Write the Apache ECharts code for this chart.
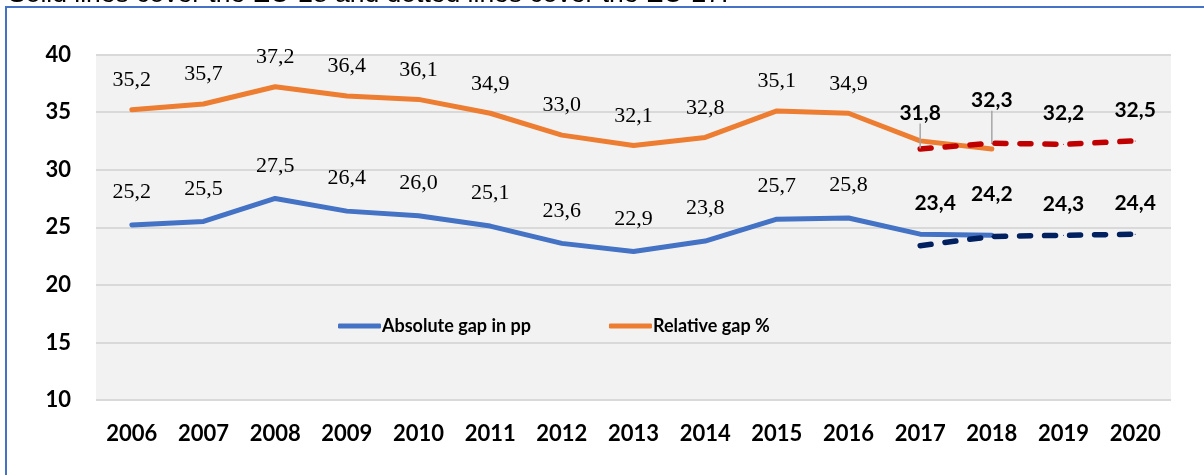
<!DOCTYPE html>
<html>
<head>
<meta charset="utf-8">
<script src="https://cdn.jsdelivr.net/npm/echarts@6/dist/echarts.min.js"></script>
<style>
  html, body { margin: 0; padding: 0; background: #fff; }
  #main { width: 1204px; height: 475px; }
</style>
</head>
<body>
<div id="main"></div>
<script>
// categories
var years = ['2006', '2007', '2008', '2009', '2010', '2011', '2012', '2013', '2014', '2015', '2016', '2017', '2018', '2019', '2020'];

// EU-28 (solid lines)
var absoluteGap = [25.2, 25.5, 27.5, 26.4, 26.0, 25.1, 23.6, 22.9, 23.8, 25.7, 25.8, 24.4, 24.3, null, null];
var relativeGap = [35.2, 35.7, 37.2, 36.4, 36.1, 34.9, 33.0, 32.1, 32.8, 35.1, 34.9, 32.5, 31.8, null, null];

// EU-27 (dotted lines)
var absoluteGapEU27 = [null, null, null, null, null, null, null, null, null, null, null, 23.4, 24.2, 24.3, 24.4];
var relativeGapEU27 = [null, null, null, null, null, null, null, null, null, null, null, 31.8, 32.3, 32.2, 32.5];

var note = 'Solid lines cover the EU-28 and dotted lines cover the EU-27.';

var chartDom = document.getElementById('main');
var myChart = echarts.init(chartDom);
var option;

function fmt(p) {
  return p.value == null ? '' : p.value.toFixed(1).replace('.', ',');
}

// solid series only label the years up to 2016
function solidData(arr) {
  return arr.map(function (v, i) {
    return i > 10 ? { value: v, label: { show: false } } : v;
  });
}

// leader lines only on the 2017 and 2018 labels of the relative EU-27 line
function leaderData(arr) {
  return arr.map(function (v, i) {
    return (i === 11 || i === 12) ? { value: v, labelLine: { show: true } } : v;
  });
}

var serifLabel = {
  show: true,
  position: 'top',
  fontFamily: 'Liberation Serif',
  fontSize: 22,
  color: '#000',
  formatter: fmt
};

var boldLabel = {
  show: true,
  position: 'top',
  distance: 20,
  fontFamily: 'Lato',
  fontWeight: 'bold',
  fontSize: 21,
  color: '#000',
  formatter: fmt
};

option = {
  animation: false,
  graphic: [
    {
      type: 'text',
      x: 8,
      y: -19,
      style: {
        text: note,
        fontFamily: 'Liberation Sans',
        fontSize: 26.5,
        fill: '#000'
      }
    },
    {
      type: 'rect',
      shape: { x: 6, y: 7, width: 1400, height: 700 },
      style: { fill: 'none', stroke: '#4472C4', lineWidth: 2 },
      silent: true
    }
  ],
  grid: {
    left: 96,
    right: 33,
    top: 54.5,
    bottom: 75,
    show: true,
    backgroundColor: '#f2f2f2',
    borderWidth: 0
  },
  legend: {
    data: ['Absolute gap in pp', 'Relative gap %'],
    left: 333,
    top: 312,
    icon: 'roundRect',
    itemWidth: 43,
    itemHeight: 5,
    itemGap: 78,
    textStyle: {
      fontFamily: 'Lato',
      fontWeight: 'bold',
      fontSize: 18,
      color: '#000',
      padding: [0, 0, 0, -4]
    }
  },
  xAxis: {
    type: 'category',
    data: years,
    boundaryGap: true,
    axisLine: { show: false },
    axisTick: { show: false },
    axisLabel: {
      margin: 23,
      fontFamily: 'Lato',
      fontWeight: 'bold',
      fontSize: 22,
      color: '#000'
    }
  },
  yAxis: {
    type: 'value',
    min: 10,
    max: 40,
    interval: 5,
    axisLine: { show: false },
    axisTick: { show: false },
    splitLine: { lineStyle: { color: '#d9d9d9', width: 2 } },
    axisLabel: {
      margin: 25,
      fontFamily: 'Lato',
      fontWeight: 'bold',
      fontSize: 22,
      color: '#000'
    }
  },
  series: [
    {
      name: 'Absolute gap in pp',
      type: 'line',
      data: solidData(absoluteGap),
      symbol: 'circle',
      symbolSize: 1,
      color: '#4472C4',
      lineStyle: { width: 5, cap: 'round', join: 'round' },
      label: Object.assign({}, serifLabel, { distance: 21 })
    },
    {
      name: 'Relative gap %',
      type: 'line',
      data: solidData(relativeGap),
      symbol: 'circle',
      symbolSize: 1,
      color: '#ED7D31',
      lineStyle: { width: 5, cap: 'round', join: 'round' },
      label: Object.assign({}, serifLabel, { distance: 18 })
    },
    {
      name: 'Relative gap % EU-27',
      type: 'line',
      data: leaderData(relativeGapEU27),
      symbol: 'circle',
      symbolSize: 1,
      color: '#C00000',
      lineStyle: { width: 5.5, type: [11, 14], cap: 'round' },
      label: boldLabel,
      labelLine: { show: false, lineStyle: { color: '#a6a6a6', width: 1.5 } },
      labelLayout: function (p) {
        if (p.dataIndex === 11) return { dy: -5 };
        if (p.dataIndex === 12) return { dy: -12 };
        return {};
      }
    },
    {
      name: 'Absolute gap in pp EU-27',
      type: 'line',
      data: absoluteGapEU27,
      symbol: 'circle',
      symbolSize: 1,
      color: '#002060',
      lineStyle: { width: 5.5, type: [11, 14], cap: 'round' },
      label: boldLabel,
      labelLayout: function (p) {
        if (p.dataIndex === 11) return { dx: 15, dy: -11 };
        if (p.dataIndex === 12) return { dy: -11 };
        return {};
      }
    }
  ]
};

option && myChart.setOption(option);
</script>
</body>
</html>
